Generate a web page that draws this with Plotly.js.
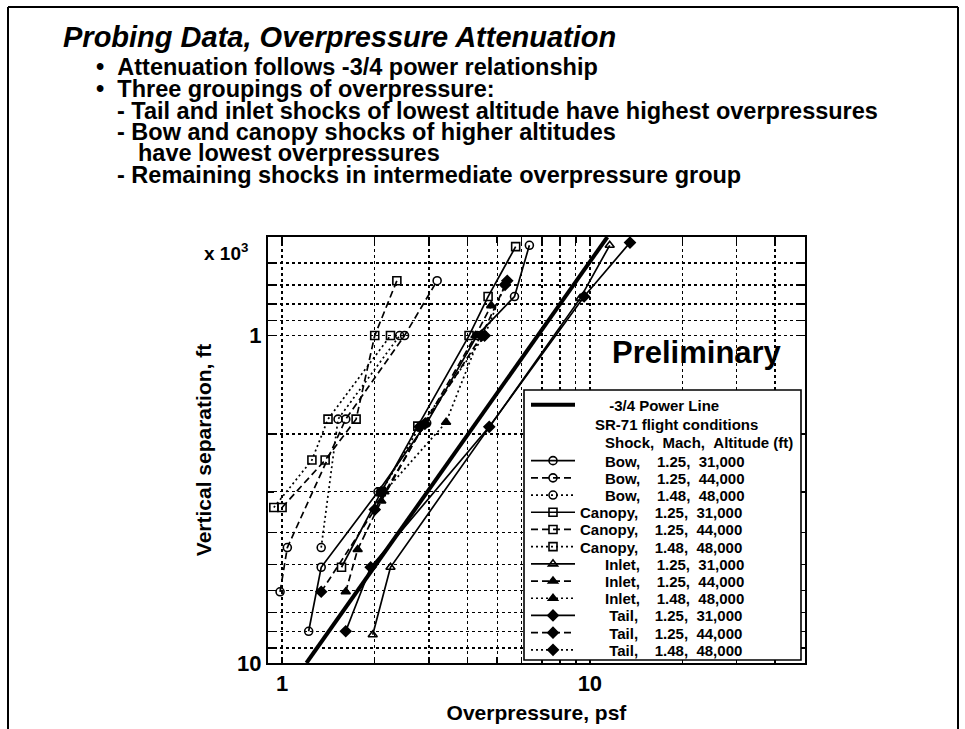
<!DOCTYPE html>
<html>
<head>
<meta charset="utf-8">
<script src="https://cdn.plot.ly/plotly-3.0.1.min.js"></script>
<style>
html,body{margin:0;padding:0;background:#fff;}
#chart{width:965px;height:729px;}
</style>
</head>
<body>
<div id="chart"></div>
<script>
// ---------------- data (overpressure in psf, vertical separation in thousands of ft) ----------------
const powerLineX = [1.2, 11.4];
const powerLineY = [10, 0.5];

const bow31X = [1.22, 1.34, 2.05, 2.95, 4.3, 5.69, 6.36];
const bow31Y = [8.0, 5.1, 3.0, 1.85, 1.0, 0.76, 0.53];
const bow44X = [0.985, 1.04, 1.61, 2.5, 3.19];
const bow44Y = [6.06, 4.44, 1.8, 1.0, 0.68];
const bow48X = [1.34, 1.52, 2.41];
const bow48Y = [4.44, 1.8, 1.0];

const canopy31X = [1.56, 2.1, 2.76, 4.05, 4.67, 5.74];
const canopy31Y = [5.1, 3.0, 1.89, 1.0, 0.76, 0.535];
const canopy44X = [1.0, 1.38, 1.74, 2.0, 2.36];
const canopy44Y = [3.35, 2.4, 1.8, 1.0, 0.68];
const canopy48X = [0.94, 1.25, 1.41, 2.25];
const canopy48Y = [3.35, 2.4, 1.8, 1.0];

const inlet31X = [1.97, 2.25, 9.3, 11.6];
const inlet31Y = [8.2, 5.1, 0.77, 0.53];
const inlet44X = [1.61, 1.76, 2.1, 2.9, 4.25, 4.78];
const inlet44Y = [6.06, 4.5, 3.2, 1.86, 1.0, 0.81];
const inlet48X = [2.15, 3.41, 4.4];
const inlet48Y = [3.0, 1.84, 1.0];

const tail31X = [1.61, 1.94, 4.71, 9.58, 13.5];
const tail31Y = [8.0, 5.1, 1.9, 0.76, 0.52];
const tail44X = [1.34, 2.0, 2.91, 4.45, 5.39];
const tail44Y = [6.06, 3.4, 1.86, 1.0, 0.68];
const tail48X = [2.1, 2.8, 4.55, 5.3];
const tail48Y = [3.0, 1.9, 1.0, 0.7];

const shockNames = ['Bow','Bow','Bow','Canopy','Canopy','Canopy','Inlet','Inlet','Inlet','Tail','Tail','Tail'];
const machNumbers = ['1.25','1.25','1.48','1.25','1.25','1.48','1.25','1.25','1.48','1.25','1.25','1.48'];
const altitudesFt = ['31,000','44,000','48,000','31,000','44,000','48,000','31,000','44,000','48,000','31,000','44,000','48,000'];
const seriesX = [bow31X, bow44X, bow48X, canopy31X, canopy44X, canopy48X, inlet31X, inlet44X, inlet48X, tail31X, tail44X, tail48X];
const seriesY = [bow31Y, bow44Y, bow48Y, canopy31Y, canopy44Y, canopy48Y, inlet31Y, inlet44Y, inlet48Y, tail31Y, tail44Y, tail48Y];

const xGridVals = [1,2,3,4,5,6,7,8,9,10,20,30,40];
const xTickText = ['1','','','','','','','','','10','','',''];
const yGridVals = [0.5,0.6,0.7,0.8,0.9,1,2,3,4,5,6,7,8,9,10];
const yTickText = ['','','','','','1','','','','','','','','','10'];

// ---------------- styling ----------------
const FONT = 'Liberation Sans, Arial, Helvetica, sans-serif';
const L = 268, R = 805, T = 237, B = 663;
const px2x = p => (p - L) / (R - L);
const py2y = p => (B - p) / (B - T);
const NB = n => '\u00A0'.repeat(n);

const dashByAlt = {'31,000': 'solid', '44,000': '7px,4px', '48,000': '2px,3px'};
const symbolFor = (shock, alt) => {
  if (shock === 'Bow') return 'circle-open';
  if (shock === 'Canopy') return 'square-open';
  if (shock === 'Inlet') return alt === '31,000' ? 'triangle-up-open' : 'triangle-up';
  return 'diamond';
};
const padFor = {Bow: 6, Canopy: 0, Inlet: 6, Tail: 7};

const traces = [{
  x: powerLineX, y: powerLineY, type: 'scatter', mode: 'lines',
  name: NB(7) + '-3/4 Power Line',
  line: {color: '#000', width: 4}
}];

for (let i = 0; i < shockNames.length; i++) {
  const s = shockNames[i], a = altitudesFt[i];
  traces.push({
    x: seriesX[i], y: seriesY[i], type: 'scatter', mode: 'lines+markers',
    name: NB(padFor[s]) + s + ',' + NB(4) + machNumbers[i] + ',' + NB(2) + a,
    line: {color: '#000', width: 1.7, dash: dashByAlt[a]},
    marker: {symbol: symbolFor(s, a), size: 8, color: '#000', line: {color: '#000', width: 1.6}}
  });
}

const bullets = [
  {t: '•' + NB(2) + 'Attenuation follows -3/4 power relationship', x: 94, y: 67},
  {t: '•' + NB(2) + 'Three groupings of overpressure:', x: 94, y: 89},
  {t: '-' + NB(1) + 'Tail and inlet shocks of lowest altitude have highest overpressures', x: 115, y: 111},
  {t: '-' + NB(1) + 'Bow and canopy shocks of higher altitudes', x: 115, y: 132},
  {t: 'have lowest overpressures', x: 136, y: 153},
  {t: '-' + NB(1) + 'Remaining shocks in intermediate overpressure group', x: 115, y: 175}
];

const annotations = bullets.map(b => ({
  xref: 'paper', yref: 'paper', x: px2x(b.x), y: py2y(b.y), xanchor: 'left', yanchor: 'middle',
  text: '<b>' + b.t + '</b>', showarrow: false, font: {family: FONT, size: 23.5, color: '#000'}
}));
annotations.push(
  {xref: 'paper', yref: 'paper', x: px2x(226), y: py2y(252), xanchor: 'center', yanchor: 'middle',
   text: '<b>x 10<sup>3</sup></b>', showarrow: false, font: {family: FONT, size: 19, color: '#000'}},
  {xref: 'paper', yref: 'paper', x: px2x(697), y: py2y(352), xanchor: 'center', yanchor: 'middle',
   text: '<b>Preliminary</b>', showarrow: false, font: {family: FONT, size: 31, color: '#000'}},
  {xref: 'paper', yref: 'paper', x: px2x(676), y: py2y(424), xanchor: 'center', yanchor: 'middle',
   text: '<b>SR-71 flight conditions</b>', showarrow: false, font: {family: FONT, size: 15, color: '#000'}},
  {xref: 'paper', yref: 'paper', x: px2x(795), y: py2y(442), xanchor: 'right', yanchor: 'middle',
   text: '<b>Shock,' + NB(2) + 'Mach,' + NB(2) + 'Altitude (ft)</b>', showarrow: false, font: {family: FONT, size: 15, color: '#000'}}
);

const shapes = [
  {type: 'line', xref: 'paper', yref: 'paper', x0: px2x(8), x1: px2x(8), y0: py2y(729), y1: py2y(7), line: {color: '#000', width: 2}},
  {type: 'line', xref: 'paper', yref: 'paper', x0: px2x(958), x1: px2x(958), y0: py2y(729), y1: py2y(7), line: {color: '#000', width: 2}},
  {type: 'line', xref: 'paper', yref: 'paper', x0: px2x(8), x1: px2x(958), y0: py2y(7), y1: py2y(7), line: {color: '#000', width: 2}},
  {type: 'rect', xref: 'paper', yref: 'paper', x0: px2x(524), x1: px2x(801), y0: py2y(660), y1: py2y(390),
   fillcolor: '#fff', line: {color: '#000', width: 1.6}, layer: 'above'}
];

const axisCommon = {
  type: 'log', showline: true, linecolor: '#000', linewidth: 2, mirror: 'ticks',
  ticks: 'inside', ticklen: 6, tickwidth: 1.5, tickcolor: '#000',
  showgrid: true, gridcolor: '#000', gridwidth: 1.4, griddash: 'dot',
  zeroline: false, tickmode: 'array',
  tickfont: {family: FONT, size: 22, color: '#000', weight: 'bold'}
};

const layout = {
  width: 965, height: 729,
  margin: {l: L, r: 965 - R, t: T, b: 729 - B},
  paper_bgcolor: '#fff', plot_bgcolor: '#fff',
  font: {family: FONT, color: '#000'},
  title: {text: '<b><i>Probing Data, Overpressure Attenuation</i></b>', x: 63 / 965, xanchor: 'left',
          y: 1 - 37 / 729, yanchor: 'middle', font: {family: FONT, size: 29, color: '#000'}},
  xaxis: Object.assign({}, axisCommon, {
    range: [Math.log10(0.9), Math.log10(50)], tickvals: xGridVals, ticktext: xTickText,
    title: {text: '<b>Overpressure, psf</b>', font: {family: FONT, size: 21, color: '#000'}, standoff: 10}
  }),
  yaxis: Object.assign({}, axisCommon, {
    range: [1, Math.log10(0.5)], tickvals: yGridVals, ticktext: yTickText,
    title: {text: '<b>Vertical separation, ft</b>', font: {family: FONT, size: 21, color: '#000'}, standoff: 20}
  }),
  showlegend: true,
  legend: {x: px2x(526), xanchor: 'left', y: py2y(392), yanchor: 'top', itemwidth: 44,
           bgcolor: 'rgba(0,0,0,0)', borderwidth: 0, traceorder: 'normal',
           font: {family: FONT, size: 15, color: '#000', weight: 'bold'}},
  annotations: annotations,
  shapes: shapes
};

// legend row centres (px from top) as in the reference: power line row, then 12 condition rows
const legendRowsPx = [405].concat(shockNames.map((_, i) => 461 + i * 17.2));

Plotly.newPlot('chart', traces, layout, {staticPlot: true, displayModeBar: false}).then(function (gd) {
  const top = gd.getBoundingClientRect().top;
  const items = Array.from(gd.querySelectorAll('g.legend g.traces'));
  items.forEach(function (g, i) {
    if (i >= legendRowsPx.length) return;
    const txt = g.querySelector('text.legendtext');
    if (!txt) return;
    const r = txt.getBoundingClientRect();
    const cy = (r.top + r.bottom) / 2 - top;
    const m = /translate\(\s*([-\d.e]+)[ ,]+([-\d.e]+)\s*\)/.exec(g.getAttribute('transform') || '');
    if (!m) return;
    const tx = parseFloat(m[1]), ty = parseFloat(m[2]);
    g.setAttribute('transform', 'translate(' + tx + ',' + (ty + legendRowsPx[i] - cy) + ')');
  });
});
</script>
</body>
</html>
